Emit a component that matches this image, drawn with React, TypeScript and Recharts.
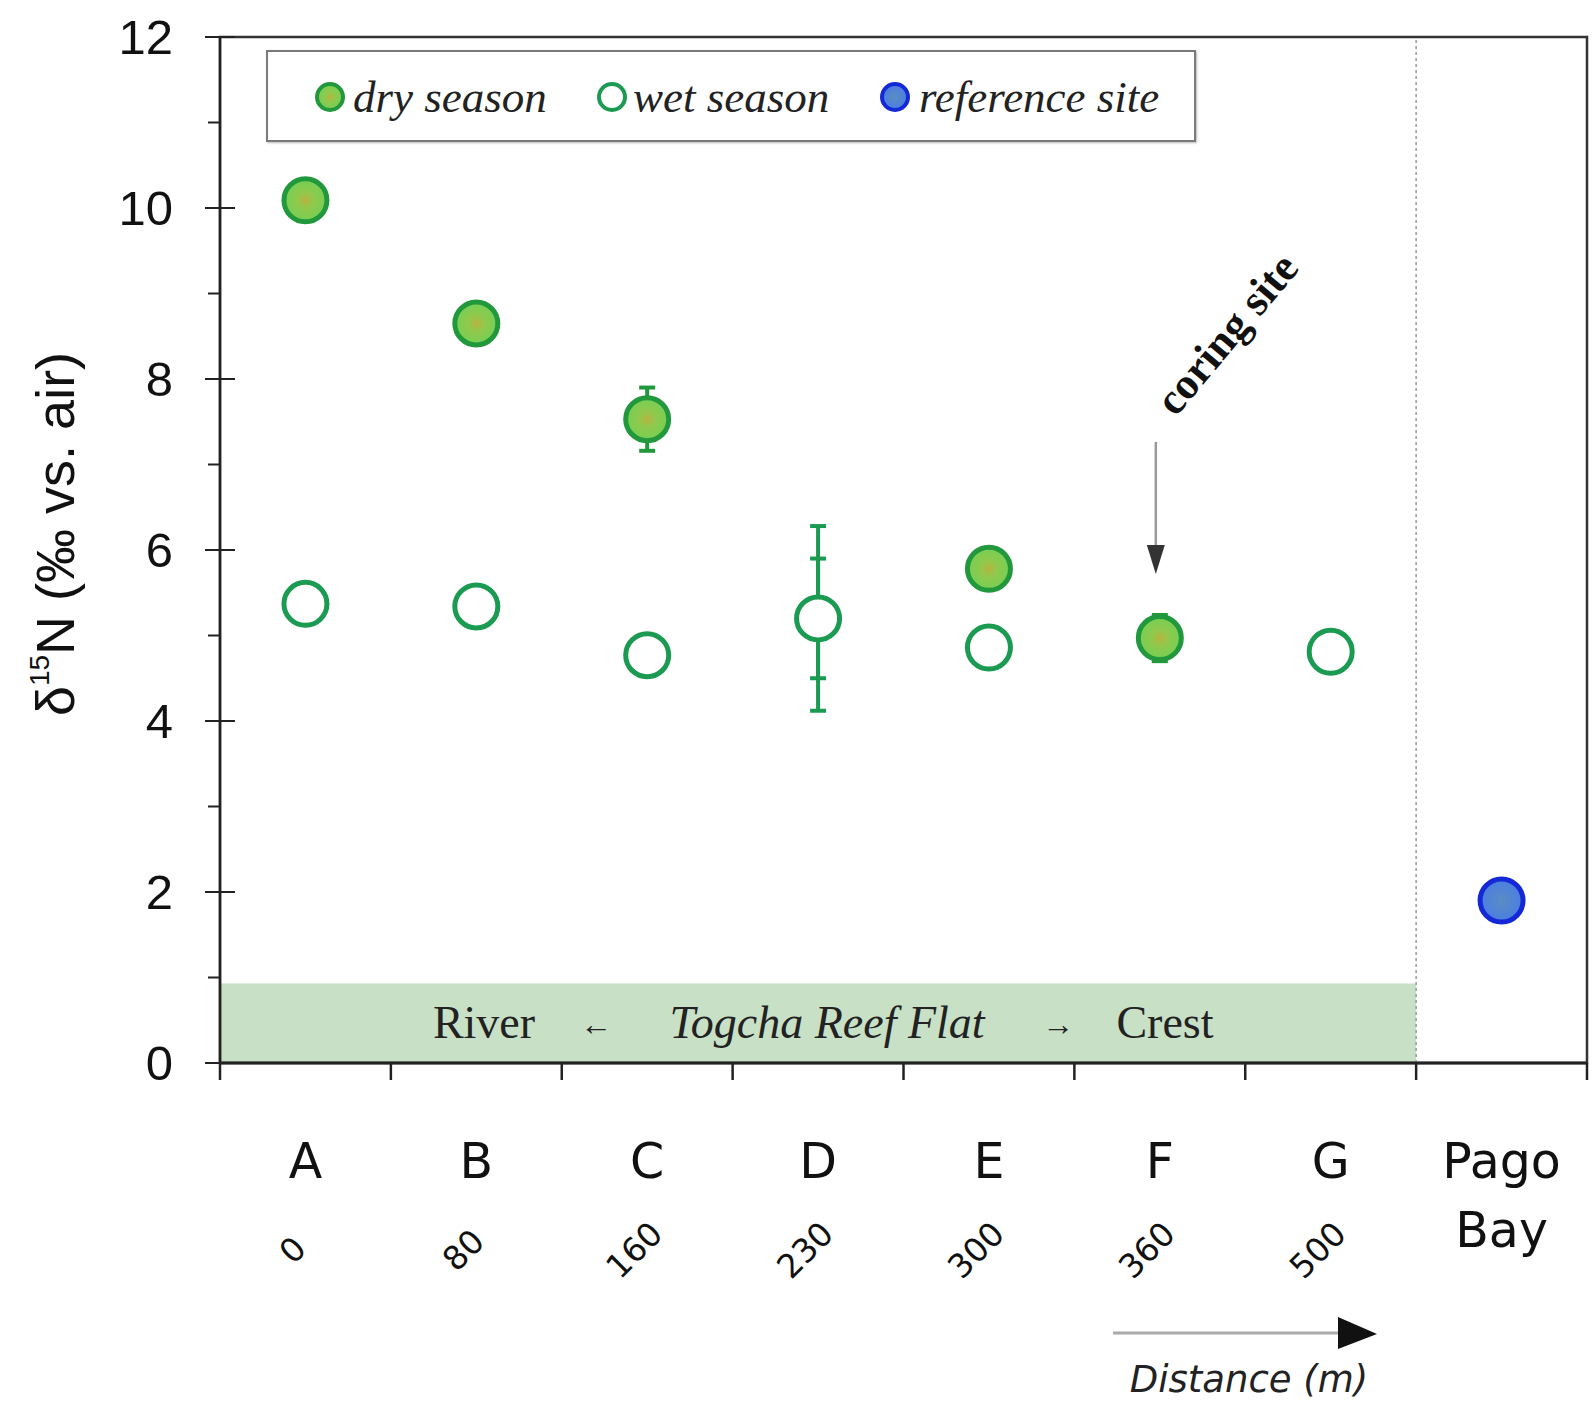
import React from 'react';
import {
  ComposedChart,
  Scatter,
  XAxis,
  YAxis,
  ErrorBar,
  ReferenceArea,
  ReferenceLine,
  ReferenceDot,
  Legend,
} from 'recharts';

// ---- data ----
const sites = ['A', 'B', 'C', 'D', 'E', 'F', 'G', 'Pago Bay'];
const distances = ['0', '80', '160', '230', '300', '360', '500', ''];
const dryValues = [10.09, 8.65, 7.53, null, 5.78, 4.97, null, null];
const dryErrors = [null, null, 0.37, null, null, 0.27, null, null];
const wetValues = [5.37, 5.34, 4.77, 5.2, 4.86, null, 4.81, null];
const wetErrorsOuter = [null, null, null, 1.08, null, null, null, null];
const wetErrorsInner = [null, null, null, 0.7, null, null, null, null];
const refValues = [null, null, null, null, null, null, null, 1.9];
const yMajorTicks = [0, 2, 4, 6, 8, 10, 12];
const yMinorTicks = [1, 3, 5, 7, 9, 11];
const legendNames = ['dry season', 'wet season', 'reference site'];
const bandLabels = ['River', '←', 'Togcha Reef Flat', '→', 'Crest'];

const data = sites.map((site, i) => ({
  site,
  distance: distances[i],
  dry: dryValues[i],
  dryErr: dryErrors[i],
  wet: wetValues[i],
  wetErr: wetErrorsOuter[i],
  wetErr2: wetErrorsInner[i],
  ref: refValues[i],
}));

const allYTicks = [...yMajorTicks, ...yMinorTicks].sort((a, b) => a - b);

const SANS = '"Liberation Sans", Arial, Helvetica, sans-serif';
const DEJAVU = '"DejaVu Sans", Verdana, sans-serif';
const SERIF = '"Liberation Serif", "Times New Roman", serif';

const DRY_STROKE = '#22983c';
const WET_STROKE = '#1b9a52';
const REF_STROKE = '#1428d8';

const DryMarker = ({ cx, cy, r, sw }: any) => (
  <g>
    <defs>
      <radialGradient id="gradDry" cx="50%" cy="50%" r="50%">
        <stop offset="0%" stopColor="#b8b23e" />
        <stop offset="35%" stopColor="#92c84c" />
        <stop offset="100%" stopColor="#74d055" />
      </radialGradient>
    </defs>
    <circle cx={cx} cy={cy} r={r} fill="url(#gradDry)" stroke={DRY_STROKE} strokeWidth={sw} />
  </g>
);
const WetMarker = ({ cx, cy, r, sw }: any) => (
  <circle cx={cx} cy={cy} r={r} fill="#ffffff" stroke={WET_STROKE} strokeWidth={sw} />
);
const RefMarker = ({ cx, cy, r, sw }: any) => (
  <g>
    <defs>
      <radialGradient id="gradRef" cx="50%" cy="50%" r="50%">
        <stop offset="0%" stopColor="#5a8cc4" />
        <stop offset="100%" stopColor="#4a7ee2" />
      </radialGradient>
    </defs>
    <circle cx={cx} cy={cy} r={r} fill="url(#gradRef)" stroke={REF_STROKE} strokeWidth={sw} />
  </g>
);

const makeShape = (key: string, Marker: any) => (props: any) => {
  const { cx, cy, payload } = props;
  if (!payload || payload[key] == null || cx == null || cy == null || isNaN(cx) || isNaN(cy)) return <g />;
  return <Marker cx={cx} cy={cy} r={21.5} sw={5} />;
};
const DryShape = makeShape('dry', DryMarker);
const WetShape = makeShape('wet', WetMarker);
const RefShape = makeShape('ref', RefMarker);

const YTick = (props: any) => {
  const { x, y, payload } = props;
  const v = payload.value;
  const major = yMajorTicks.includes(v);
  return (
    <g>
      <line x1={major ? x - 15 : x - 12} x2={major ? x + 15 : x} y1={y} y2={y} stroke="#222" strokeWidth={2} />
      {major && (
        <text x={x - 47} y={y + 17} textAnchor="end" fontFamily={SANS} fontSize={49} fill="#111">
          {v}
        </text>
      )}
    </g>
  );
};

const XTick = (props: any) => {
  const { x, y, payload } = props;
  const half = payload && payload.offset ? payload.offset : 85.45;
  const i = sites.indexOf(payload.value);
  const isLast = i === sites.length - 1;
  const parts = String(payload.value).split(' ');
  return (
    <g>
      <line x1={x - half} x2={x - half} y1={y} y2={y + 17} stroke="#222" strokeWidth={2.5} />
      {isLast && <line x1={x + half} x2={x + half} y1={y} y2={y + 17} stroke="#222" strokeWidth={2.5} />}
      {parts.map((p, k) => (
        <text key={k} x={x} y={y + 115 + k * 69} textAnchor="middle" fontFamily={DEJAVU} fontSize={49} fill="#111">
          {p}
        </text>
      ))}
      {distances[i] ? (
        <text
          transform={`translate(${x - 13},${y + 187}) rotate(-45)`}
          textAnchor="middle"
          dominantBaseline="central"
          fontFamily={DEJAVU}
          fontSize={33}
          fill="#111"
        >
          {distances[i]}
        </text>
      ) : null}
    </g>
  );
};

const YLabel = (props: any) => {
  const vb = props.viewBox || { x: 0, y: 37, width: 220, height: 1026 };
  const cx = vb.x + 74;
  const cy = vb.y + vb.height / 2 - 16;
  return (
    <text transform={`translate(${cx},${cy}) rotate(-90)`} textAnchor="middle" fontFamily={SANS} fontSize={54} fill="#111">
      δ
      <tspan fontSize={28} dy={-25}>
        15
      </tspan>
      <tspan dy={25}>N (‰ vs. air)</tspan>
    </text>
  );
};

const DistanceLabel = (props: any) => {
  const vb = props.viewBox || { x: 220, y: 1063, width: 1367, height: 345 };
  const ax = vb.x;
  const ay = vb.y;
  return (
    <g>
      <line x1={ax + 893} x2={ax + 1122} y1={ay + 270} y2={ay + 270} stroke="#aaaaaa" strokeWidth={3} />
      <polygon
        points={`${ax + 1118},${ay + 254} ${ax + 1157},${ay + 271} ${ax + 1118},${ay + 286}`}
        fill="#111"
      />
      <text x={ax + 1029} y={ay + 329} textAnchor="middle" fontFamily={DEJAVU} fontStyle="italic" fontSize={37} fill="#222">
        Distance (m)
      </text>
    </g>
  );
};

const BandLabel = (props: any) => {
  const vb = props.viewBox || { x: 220, y: 983, width: 1195, height: 80 };
  const by = vb.y + 55;
  const rel = [264, 376, 607, 838, 945];
  return (
    <g fontFamily={SERIF} fill="#222">
      <text x={vb.x + rel[0]} y={by} textAnchor="middle" fontSize={46}>{bandLabels[0]}</text>
      <text x={vb.x + rel[1]} y={by - 3} textAnchor="middle" fontSize={32}>{bandLabels[1]}</text>
      <text x={vb.x + rel[2]} y={by} textAnchor="middle" fontSize={46} fontStyle="italic">{bandLabels[2]}</text>
      <text x={vb.x + rel[3]} y={by - 3} textAnchor="middle" fontSize={32}>{bandLabels[3]}</text>
      <text x={vb.x + rel[4]} y={by} textAnchor="middle" fontSize={46}>{bandLabels[4]}</text>
    </g>
  );
};

const CoringShape = (props: any) => {
  const { cx, cy } = props;
  if (cx == null || cy == null) return <g />;
  const ax = cx - 4;
  return (
    <g>
      <line x1={ax} x2={ax} y1={cy - 132} y2={cy - 26} stroke="#9a9a9a" strokeWidth={2.5} />
      <polygon points={`${ax - 9},${cy - 29} ${ax + 9},${cy - 29} ${ax},${cy}`} fill="#333" />
      <text
        transform={`translate(${cx + 67},${cy - 240}) rotate(-50)`}
        textAnchor="middle"
        dominantBaseline="central"
        fontFamily={SERIF}
        fontWeight="bold"
        fontSize={44}
        fill="#111"
      >
        coring site
      </text>
    </g>
  );
};

const LegendContent = () => {
  const markerX = [62, 344, 627];
  const textX = [85, 365, 651];
  const markers = [DryMarker, WetMarker, RefMarker];
  return (
    <div
      style={{
        width: 930,
        height: 92,
        boxSizing: 'border-box',
        border: '2px solid #7a7a7a',
        background: '#fff',
        boxShadow: '1px 1px 2px #bbb',
      }}
    >
      <svg width={926} height={88} style={{ display: 'block' }}>
        {legendNames.map((name, i) => {
          const M = markers[i];
          return (
            <g key={name}>
              <M cx={markerX[i]} cy={45} r={13} sw={4} />
              <text x={textX[i]} y={60} fontFamily={SERIF} fontStyle="italic" fontSize={45} fill="#222">
                {name}
              </text>
            </g>
          );
        })}
      </svg>
    </div>
  );
};

export default function App() {
  return (
    <div style={{ position: 'absolute', left: 0, top: 0, width: 1595, height: 1408, background: '#fff' }}>
      <ComposedChart
        width={1595}
        height={1408}
        data={data}
        margin={{ top: 37, right: 8, bottom: 0, left: 0 }}
      >
        <XAxis
          dataKey="site"
          type="category"
          scale="band"
          interval={0}
          height={345}
          tickLine={false}
          tickSize={0}
          tickMargin={0}
          axisLine={{ stroke: '#222', strokeWidth: 3 }}
          tick={<XTick />}
          label={<DistanceLabel />}
        />
        <YAxis
          type="number"
          domain={[0, 12]}
          ticks={allYTicks}
          interval={0}
          width={220}
          tickLine={false}
          tickSize={0}
          tickMargin={0}
          axisLine={{ stroke: '#222', strokeWidth: 2.5 }}
          tick={<YTick />}
          label={<YLabel />}
        />
        <ReferenceArea
          x1="A"
          x2="G"
          y1={0}
          y2={0.93}
          fill="#c8e0c6"
          fillOpacity={1}
          stroke="none"
          label={<BandLabel />}
        />
        <ReferenceArea y1={0} y2={12} fill="none" fillOpacity={0} stroke="#333" strokeWidth={2.5} />
        <ReferenceLine x="G" position="end" stroke="#999" strokeWidth={1.5} strokeDasharray="3 3" />
        <ReferenceDot x="F" y={5.72} r={0} shape={<CoringShape />} />
        <Legend
          verticalAlign="middle"
          align="center"
          layout="horizontal"
          content={<LegendContent />}
          wrapperStyle={{ position: 'absolute', left: 266, top: 50, width: 930, height: 92 }}
        />
        <Scatter dataKey="wet" shape={WetShape} isAnimationActive={false} legendType="circle">
          <ErrorBar dataKey="wetErr" direction="y" width={8} stroke={WET_STROKE} strokeWidth={4} isAnimationActive={false} />
          <ErrorBar dataKey="wetErr2" direction="y" width={8} stroke={WET_STROKE} strokeWidth={4} isAnimationActive={false} />
        </Scatter>
        <Scatter dataKey="dry" shape={DryShape} isAnimationActive={false} legendType="circle">
          <ErrorBar dataKey="dryErr" direction="y" width={8} stroke={DRY_STROKE} strokeWidth={4} isAnimationActive={false} />
        </Scatter>
        <Scatter dataKey="ref" shape={RefShape} isAnimationActive={false} legendType="circle" />
      </ComposedChart>
    </div>
  );
}
